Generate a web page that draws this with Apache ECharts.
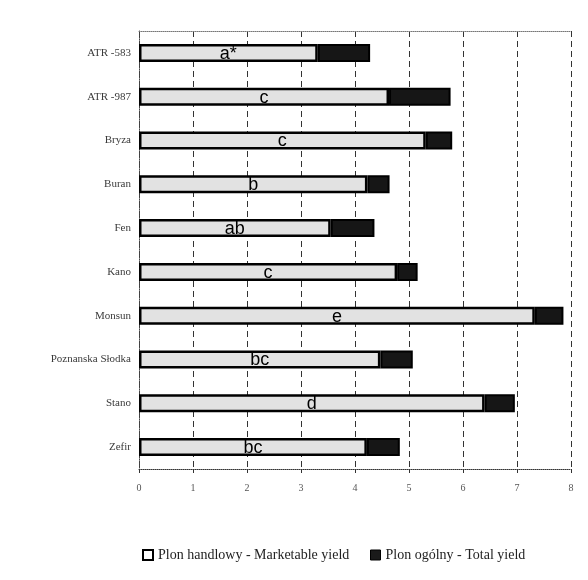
<!DOCTYPE html>
<html><head><meta charset="utf-8">
<script src="https://cdn.jsdelivr.net/npm/echarts@6/dist/echarts.min.js"></script>
<style>html,body{margin:0;padding:0;background:#fff}#c{width:588px;height:580px}</style>
</head><body><div id="c"></div>
<script>
var categories = ['ATR -583','ATR -987','Bryza','Buran','Fen','Kano','Monsun','Poznanska Słodka','Stano','Zefir'];
var marketable = [3.31, 4.63, 5.31, 4.23, 3.55, 4.78, 7.33, 4.47, 6.40, 4.22];
var total = [4.28, 5.77, 5.80, 4.64, 4.36, 5.16, 7.86, 5.07, 6.96, 4.83];
var letters = ['a*','c','c','b','ab','c','e','bc','d','bc'];
var xTicks = [0,1,2,3,4,5,6,7,8];
var nameMarket = 'Plon handlowy - Marketable yield';
var nameTotal = 'Plon ogólny - Total yield';

var diff = total.map(function(t,i){return +(t - marketable[i]).toFixed(2);});
var chart = echarts.init(document.getElementById('c'));
chart.setOption({
  animation:false,
  grid:{left:139,right:17,top:31,bottom:111},
  legend:[
    {data:[{name:nameMarket,itemStyle:{color:'#fff',borderColor:'#000',borderWidth:2}}],left:137,top:543,icon:'rect',itemWidth:10,itemHeight:10,
     textStyle:{fontFamily:'Liberation Serif',fontSize:14,color:'#222'}},
    {data:[{name:nameTotal,itemStyle:{color:'#1a1a1a',borderColor:'#000',borderWidth:1}}],left:365,top:543,icon:'rect',itemWidth:10,itemHeight:10,
     textStyle:{fontFamily:'Liberation Serif',fontSize:14,color:'#222'}}
  ],
  xAxis:[{type:'value',min:0,max:8,interval:1,position:'bottom',
    axisLine:{show:true,lineStyle:{color:'#333',type:'dotted',width:1}},
    axisTick:{show:true,length:4,lineStyle:{color:'#333'}},
    axisLabel:{color:'#555',fontFamily:'Liberation Serif',fontSize:10,margin:14,formatter:function(v){return xTicks.indexOf(v)>=0?String(v):'';}},
    splitLine:{show:true,lineStyle:{color:'#333',type:[6,4],width:1}}},
   {type:'value',min:0,max:8,interval:1,position:'top',
    axisLine:{show:true,lineStyle:{color:'#777',type:'dotted',width:1}},
    axisTick:{show:false},axisLabel:{show:false},splitLine:{show:false}}],
  yAxis:{type:'category',data:categories,inverse:true,
    axisLine:{show:true,lineStyle:{color:'#444',type:'dotted'}},
    axisTick:{show:false},
    axisLabel:{color:'#3a3a3a',fontFamily:'Liberation Serif',fontSize:11,margin:8}},
  series:[
    {name:nameMarket,type:'bar',stack:'y',data:marketable,barWidth:18,
     itemStyle:{color:'#e2e2e2',borderColor:'#000',borderWidth:2.5},
     label:{show:true,position:'inside',color:'#000',fontFamily:'Liberation Sans',fontSize:18,offset:[0,1],
       formatter:function(p){return letters[p.dataIndex];}}},
    {name:nameTotal,type:'bar',stack:'y',data:diff,barWidth:18,
     itemStyle:{color:'#161616',borderColor:'#000',borderWidth:2}}
  ]
});
</script></body></html>
